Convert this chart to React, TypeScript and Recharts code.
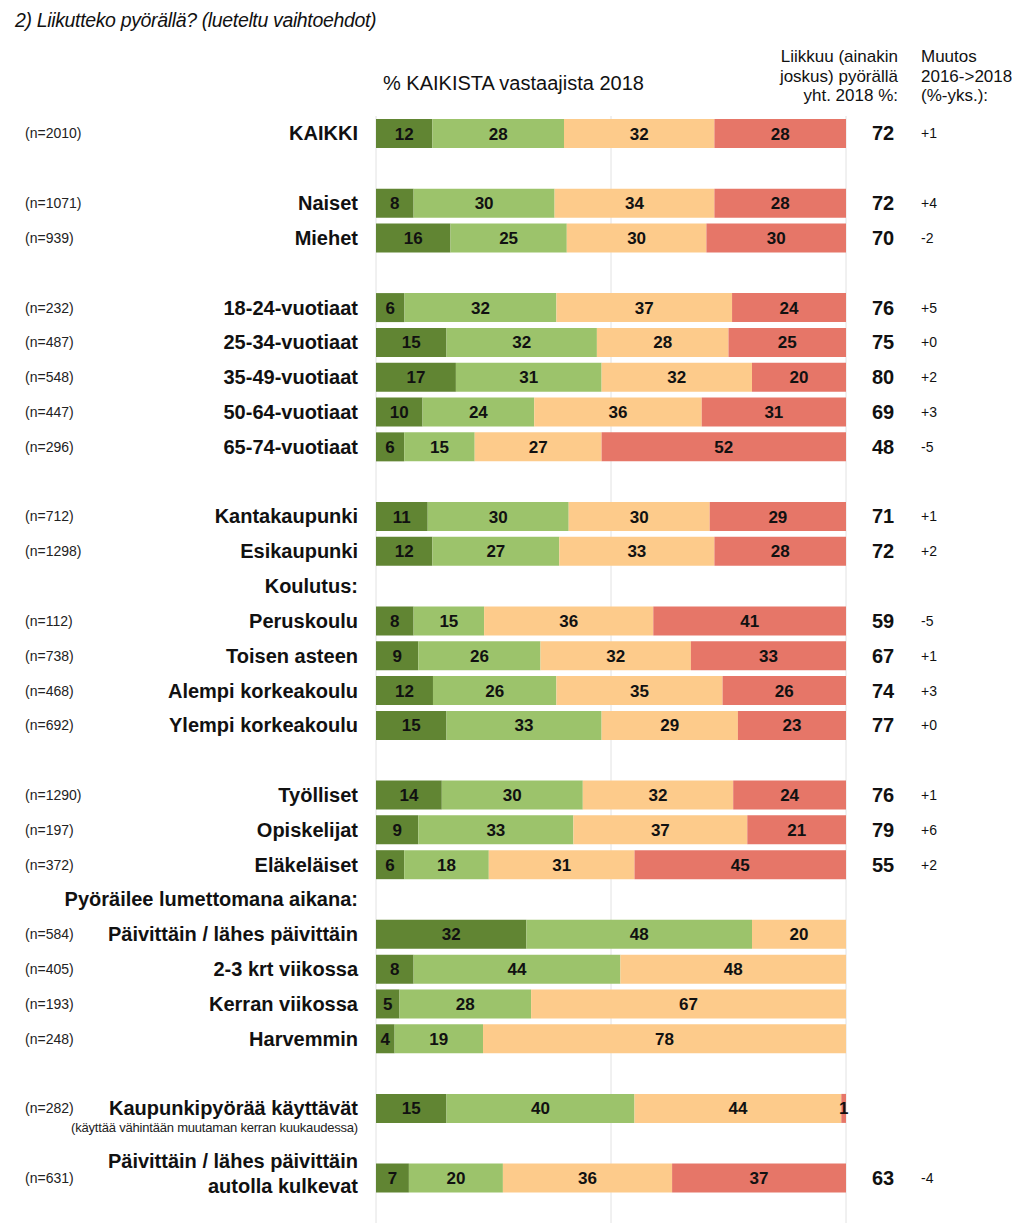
import { BarChart, Bar, XAxis, YAxis, CartesianGrid, LabelList } from 'recharts';

// rows top to bottom; '' = empty spacer row
const categories = [
  'KAIKKI', '', 'Naiset', 'Miehet', '',
  '18-24-vuotiaat', '25-34-vuotiaat', '35-49-vuotiaat', '50-64-vuotiaat', '65-74-vuotiaat', '',
  'Kantakaupunki', 'Esikaupunki', 'Koulutus:',
  'Peruskoulu', 'Toisen asteen', 'Alempi korkeakoulu', 'Ylempi korkeakoulu', '',
  'Työlliset', 'Opiskelijat', 'Eläkeläiset', 'Pyöräilee lumettomana aikana:',
  'Päivittäin / lähes päivittäin', '2-3 krt viikossa', 'Kerran viikossa', 'Harvemmin', '',
  'Kaupunkipyörää käyttävät', '', 'Päivittäin / lähes päivittäin', '', 'Päivittäin / lähes päivittäin',
];
const secondLines: Record<number, string> = { 30: 'autolla kulkevat', 32: '' };
const subLabels: Record<number, string> = { 28: '(käyttää vähintään muutaman kerran kuukaudessa)' };

const sampleSizes = [
  'n=2010', '', 'n=1071', 'n=939', '',
  'n=232', 'n=487', 'n=548', 'n=447', 'n=296', '',
  'n=712', 'n=1298', '',
  'n=112', 'n=738', 'n=468', 'n=692', '',
  'n=1290', 'n=197', 'n=372', '',
  'n=584', 'n=405', 'n=193', 'n=248', '',
  'n=282', '', 'n=631', '', '',
];

const s1 = [12, null, 8, 16, null, 6, 15, 17, 10, 6, null, 11, 12, null, 8, 9, 12, 15, null, 14, 9, 6, null, 32, 8, 5, 4, null, 15, null, 7, null, null];
const s2 = [28, null, 30, 25, null, 32, 32, 31, 24, 15, null, 30, 27, null, 15, 26, 26, 33, null, 30, 33, 18, null, 48, 44, 28, 19, null, 40, null, 20, null, null];
const s3 = [32, null, 34, 30, null, 37, 28, 32, 36, 27, null, 30, 33, null, 36, 32, 35, 29, null, 32, 37, 31, null, 20, 48, 67, 78, null, 44, null, 36, null, null];
const s4 = [28, null, 28, 30, null, 24, 25, 20, 31, 52, null, 29, 28, null, 41, 33, 26, 23, null, 24, 21, 45, null, null, null, null, null, null, 1, null, 37, null, null];

const totals = [72, null, 72, 70, null, 76, 75, 80, 69, 48, null, 71, 72, null, 59, 67, 74, 77, null, 76, 79, 55, null, null, null, null, null, null, null, null, 63, null, null];
const changes = ['+1', '', '+4', '-2', '', '+5', '+0', '+2', '+3', '-5', '', '+1', '+2', '', '-5', '+1', '+3', '+0', '', '+1', '+6', '+2', '', '', '', '', '', '', '', '', '-4', '', ''];

const COLORS = ['#618533', '#9cc36b', '#fdcb8b', '#e67668'];
const FONT = 'Arial, "Liberation Sans", sans-serif';

const data = categories.map((c, i) => ({
  key: String(i),
  s1: s1[i],
  s2: s2[i],
  s3: s3[i],
  s4: s4[i],
}));

const LeftTick = (props: any) => {
  const { y, payload } = props;
  const i = Number(payload.value);
  const label = categories[i];
  const n = sampleSizes[i];
  const second = secondLines[i];
  const sub = subLabels[i];
  return (
    <g>
      {n && (
        <text x={25} y={y} dy={5} fontSize={14} fontFamily={FONT} fill="#222">
          ({n})
        </text>
      )}
      {second !== undefined ? (
        <>
          <text x={358} y={y - 17} dy={7} textAnchor="end" fontSize={20} fontWeight="bold" fontFamily={FONT} fill="#111">
            {label}
          </text>
          <text x={358} y={y + 8} dy={7} textAnchor="end" fontSize={20} fontWeight="bold" fontFamily={FONT} fill="#111">
            {second}
          </text>
        </>
      ) : (
        <text x={358} y={y} dy={7} textAnchor="end" fontSize={20} fontWeight="bold" fontFamily={FONT} fill="#111">
          {label}
        </text>
      )}
      {sub && (
        <text x={358} y={y + 19} dy={5} textAnchor="end" fontSize={13} fontFamily={FONT} fill="#222" letterSpacing={-0.2}>
          {sub}
        </text>
      )}
    </g>
  );
};

const RightTick = (props: any) => {
  const { y, payload } = props;
  const i = Number(payload.value);
  const t = totals[i];
  const c = changes[i];
  return (
    <g>
      {t != null && (
        <text x={883} y={y} dy={7} textAnchor="middle" fontSize={20} fontWeight="bold" fontFamily={FONT} fill="#111">
          {t}
        </text>
      )}
      {c && (
        <text x={921} y={y} dy={5} fontSize={14} fontFamily={FONT} fill="#111">
          {c}
        </text>
      )}
    </g>
  );
};

const fmt = (v: any) => (v ? String(v) : '');

export default function App() {
  const keys = ['s1', 's2', 's3', 's4'];
  return (
    <div style={{ position: 'absolute', left: 0, top: 0, width: 1024, height: 1223, overflow: 'hidden', background: '#fff' }}>
      <div style={{ position: 'absolute', left: 15, top: 9, fontFamily: FONT, fontStyle: 'italic', fontSize: 19.5, letterSpacing: -0.35, color: '#111', whiteSpace: 'nowrap' }}>
        2) Liikutteko pyörällä? (lueteltu vaihtoehdot)
      </div>
      <div style={{ position: 'absolute', left: 383, top: 72, fontFamily: FONT, fontSize: 20, color: '#111', whiteSpace: 'nowrap' }}>
        % KAIKISTA vastaajista 2018
      </div>
      <div style={{ position: 'absolute', right: 1024 - 898, top: 47, fontFamily: FONT, fontSize: 17, lineHeight: '19.5px', color: '#111', textAlign: 'right', whiteSpace: 'nowrap' }}>
        Liikkuu (ainakin<br />joskus) pyörällä<br />yht. 2018 %:
      </div>
      <div style={{ position: 'absolute', left: 921, top: 47, fontFamily: FONT, fontSize: 17, lineHeight: '19.5px', color: '#111', whiteSpace: 'nowrap' }}>
        Muutos<br />2016-&gt;2018<br />(%-yks.):
      </div>
      <div style={{ position: 'absolute', left: 0, top: 0 }}>
        <BarChart
          width={1024}
          height={1280}
          data={data}
          layout="vertical"
          barSize={29}
          stackOffset="expand"
          margin={{ top: 116, right: 0, bottom: 15, left: 0 }}
        >
          <CartesianGrid horizontal={false} vertical stroke="#e2e2e2" />
          <XAxis type="number" domain={[0, 1]} ticks={[0, 0.5, 1]} hide />
          <YAxis
            type="category"
            dataKey="key"
            width={376}
            axisLine={false}
            tickLine={false}
            tick={<LeftTick />}
            interval={0}
          />
          <YAxis
            yAxisId="r"
            orientation="right"
            type="category"
            dataKey="key"
            width={178}
            axisLine={false}
            tickLine={false}
            tick={<RightTick />}
            interval={0}
          />
          {keys.map((k, idx) => (
            <Bar key={k} dataKey={k} stackId="a" fill={COLORS[idx]} isAnimationActive={false}>
              <LabelList
                dataKey={k}
                position="center"
                formatter={fmt}
                fill="#111"
                fontSize={17}
                fontWeight="bold"
                fontFamily={FONT}
              />
            </Bar>
          ))}
        </BarChart>
      </div>
    </div>
  );
}
